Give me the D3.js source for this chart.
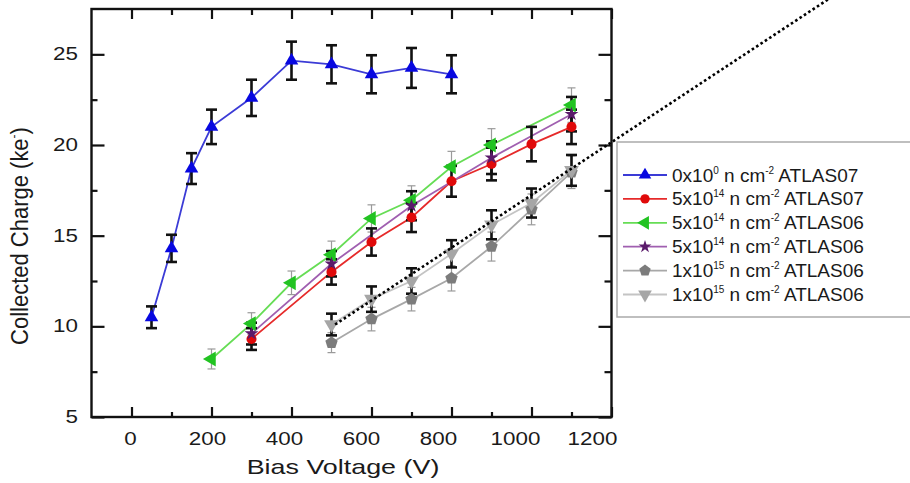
<!DOCTYPE html>
<html>
<head>
<meta charset="utf-8">
<script src="https://cdn.jsdelivr.net/npm/d3@7"></script>
<style>
  body { margin: 0; background: #fff; }
  text { font-family: "Liberation Sans", Arial, sans-serif; fill: #1a1a1a; }
</style>
</head>
<body>
<div id="chart"></div>
<script>
// bias voltage (V), collected charge (ke-), error (ke-)
const voltsA07 = [50, 100, 150, 200, 300, 400, 500, 600, 700, 800];
const chargeA07 = [10.5, 14.3, 18.7, 21.0, 22.6, 24.65, 24.45, 23.9, 24.25, 23.9];
const errA07 = [0.6, 0.75, 0.85, 0.95, 1.0, 1.05, 1.05, 1.05, 1.1, 1.05];

const voltsA07irr = [300, 500, 600, 700, 800, 900, 1000, 1100];
const chargeA07irr = [9.3, 13.0, 14.65, 16.0, 18.0, 18.95, 20.05, 21.0];
const errA07irr = [0.6, 0.7, 0.75, 0.8, 0.85, 0.9, 0.95, 0.95];

const voltsA06a = [200, 300, 400, 500, 600, 700, 800, 900, 1100];
const chargeA06a = [8.2, 10.15, 12.4, 13.95, 15.95, 16.95, 18.8, 20.0, 22.2];
const errA06a = [0.55, 0.6, 0.65, 0.75, 0.75, 0.8, 0.85, 0.9, 0.95];

const voltsA06b = [300, 500, 700, 900, 1100];
const chargeA06b = [9.6, 13.45, 16.65, 19.3, 21.7];
const errA06b = [0.6, 0.7, 0.8, 0.9, 0.95];

const voltsA06c = [500, 600, 700, 800, 900, 1000, 1100];
const chargeA06c = [9.1, 10.4, 11.5, 12.65, 14.4, 16.45, 18.5];
const errA06c = [0.55, 0.65, 0.65, 0.7, 0.8, 0.85, 0.9];

const voltsA06d = [500, 600, 700, 800, 900, 1000, 1100];
const chargeA06d = [10.1, 11.5, 12.5, 14.0, 15.6, 16.8, 18.6];
const errA06d = [0.6, 0.7, 0.7, 0.75, 0.8, 0.8, 0.85];

// legend text pieces: [mantissa, exponent, detector]
const legendLabels = [
  ["0x10", "0", "ATLAS07"],
  ["5x10", "14", "ATLAS07"],
  ["5x10", "14", "ATLAS06"],
  ["5x10", "14", "ATLAS06"],
  ["1x10", "15", "ATLAS06"],
  ["1x10", "15", "ATLAS06"],
];

const xTicks = [0, 200, 400, 600, 800, 1000, 1200];
const xMinor = [100, 300, 500, 700, 900, 1100];
const yTicks = [5, 10, 15, 20, 25];
const yMinor = [7.5, 12.5, 17.5, 22.5];

// dotted guide line (start / end in data units)
const guideVolts = [509, 1760];
const guideCharge = [10.1, 28.3];

const zip = (v, q, e) => v.map((d, i) => ({v: d, q: q[i], e: e[i]}));

const pentagon = {
  draw(ctx, size) {
    const r = Math.sqrt(size / 2.378);
    for (let i = 0; i < 5; i++) {
      const a = -Math.PI / 2 + i * 2 * Math.PI / 5;
      if (i === 0) ctx.moveTo(r * Math.cos(a), r * Math.sin(a));
      else ctx.lineTo(r * Math.cos(a), r * Math.sin(a));
    }
    ctx.closePath();
  }
};

const series = [
  {data: zip(voltsA07, chargeA07, errA07), line: "#3b3bd6", fill: "#0808e0",
    symbol: d3.symbolTriangle, size: 80, rot: 0, thick: true},
  {data: zip(voltsA07irr, chargeA07irr, errA07irr), line: "#e62a2a", fill: "#e00a0a",
    symbol: d3.symbolCircle, size: 80, rot: 0, thick: true},
  {data: zip(voltsA06a, chargeA06a, errA06a), line: "#66dd55", fill: "#22c322",
    symbol: d3.symbolTriangle, size: 95, rot: -90, thick: false},
  {data: zip(voltsA06b, chargeA06b, errA06b), line: "#a05fb0", fill: "#5a1a6a",
    symbol: d3.symbolStar, size: 60, rot: 0, thick: true},
  {data: zip(voltsA06c, chargeA06c, errA06c), line: "#a8a8a8", fill: "#7c7c7c",
    symbol: pentagon, size: 100, rot: 0, thick: false},
  {data: zip(voltsA06d, chargeA06d, errA06d), line: "#c4c4c4", fill: "#a6a6a6",
    symbol: d3.symbolTriangle, size: 95, rot: 180, thick: true},
];

const W = 910, H = 483;
const plot = {left: 91.5, right: 611.5, top: 9, bottom: 417};
const SX = 1.28; // text in the reference is stretched horizontally

const svg = d3.select("#chart").append("svg")
  .attr("width", W).attr("height", H);

const x = d3.scaleLinear().domain([-100, 1200]).range([plot.left, plot.right]);
const y = d3.scaleLinear().domain([5, 27.5]).range([plot.bottom, plot.top]);
// the tick labels in the reference sit on a slightly tighter spacing than the ticks
const xLabel = d3.scaleLinear().domain([0, 1200]).range([130, 592]);

const tickStyle = g => {
  g.select(".domain").remove();
  g.selectAll(".tick line").attr("stroke", "#111").attr("stroke-width", 2.2);
};

svg.append("g").attr("transform", `translate(0,${plot.bottom})`)
  .call(d3.axisBottom(x).tickValues(xTicks).tickSizeInner(-10).tickSizeOuter(0)
    .tickPadding(16).tickFormat(d3.format("d")))
  .call(tickStyle)
  .call(g => g.selectAll("text").attr("font-size", 17.5).attr("fill", "#1a1a1a")
    .attr("x", d => (xLabel(d) - x(d)) / SX)
    .attr("transform", `scale(${SX},1)`));
svg.append("g").attr("transform", `translate(0,${plot.bottom})`)
  .call(d3.axisBottom(x).tickValues(xMinor).tickSizeInner(-5).tickSizeOuter(0).tickFormat(""))
  .call(tickStyle);
svg.append("g").attr("transform", `translate(0,${plot.top})`)
  .call(d3.axisTop(x).tickValues(xTicks).tickSizeInner(-10).tickSizeOuter(0).tickFormat(""))
  .call(tickStyle);
svg.append("g").attr("transform", `translate(0,${plot.top})`)
  .call(d3.axisTop(x).tickValues(xMinor).tickSizeInner(-6).tickSizeOuter(0).tickFormat(""))
  .call(tickStyle);

svg.append("g").attr("transform", `translate(${plot.left},0)`)
  .call(d3.axisLeft(y).tickValues(yTicks).tickSizeInner(-13).tickSizeOuter(0))
  .call(tickStyle)
  .call(g => g.selectAll("text").attr("font-size", 17.5).attr("fill", "#1a1a1a")
    .attr("x", -13.5 / SX).attr("transform", `scale(${SX},1)`));
svg.append("g").attr("transform", `translate(${plot.left},0)`)
  .call(d3.axisLeft(y).tickValues(yMinor).tickSizeInner(-6).tickSizeOuter(0).tickFormat(""))
  .call(tickStyle);
svg.append("g").attr("transform", `translate(${plot.right},0)`)
  .call(d3.axisRight(y).tickValues(yTicks).tickSizeInner(-13).tickSizeOuter(0).tickFormat(""))
  .call(tickStyle);
svg.append("g").attr("transform", `translate(${plot.right},0)`)
  .call(d3.axisRight(y).tickValues(yMinor).tickSizeInner(-7).tickSizeOuter(0).tickFormat(""))
  .call(tickStyle);

svg.append("rect")
  .attr("x", plot.left).attr("y", plot.top)
  .attr("width", plot.right - plot.left).attr("height", plot.bottom - plot.top)
  .attr("fill", "none").attr("stroke", "#111").attr("stroke-width", 2.4);

// axis titles
svg.append("text")
  .attr("transform", `translate(343,474) scale(${SX},1)`)
  .attr("text-anchor", "middle").attr("font-size", 21)
  .text("Bias Voltage (V)");

const yTitle = svg.append("text")
  .attr("transform", "translate(28,236) rotate(-90) scale(1,1.12)")
  .attr("text-anchor", "middle").attr("font-size", 22);
yTitle.append("tspan").text("Collected Charge (ke");
yTitle.append("tspan").attr("font-size", 12).attr("dy", -9).text("-");
yTitle.append("tspan").attr("dy", 9).text(")");

// series
const line = d3.line().x(d => x(d.v)).y(d => y(d.q));

series.forEach(s => {
  svg.append("path").datum(s.data)
    .attr("d", line)
    .attr("fill", "none").attr("stroke", s.line).attr("stroke-width", 1.8);
});

const drawErrors = s => {
  const col = s.thick ? "#111" : "#9a9a9a";
  const sw = s.thick ? 2.6 : 1.2;
  const cap = s.thick ? 5.5 : 4;
  const g = svg.append("g").attr("stroke", col).attr("stroke-width", sw);
  s.data.forEach(d => {
    const cx = x(d.v), y1 = y(d.q + d.e), y2 = y(d.q - d.e);
    g.append("line").attr("x1", cx).attr("x2", cx).attr("y1", y1).attr("y2", y2);
    g.append("line").attr("x1", cx - cap).attr("x2", cx + cap).attr("y1", y1).attr("y2", y1);
    g.append("line").attr("x1", cx - cap).attr("x2", cx + cap).attr("y1", y2).attr("y2", y2);
  });
};
series.filter(s => !s.thick).forEach(drawErrors);
series.filter(s => s.thick).forEach(drawErrors);

series.forEach(s => {
  svg.append("g").selectAll("path")
    .data(s.data)
    .join("path")
    .attr("d", d3.symbol(s.symbol, s.size))
    .attr("transform", d => `translate(${x(d.v)},${y(d.q)}) rotate(${s.rot})`)
    .attr("fill", s.fill);
});

// dotted guide
svg.append("line")
  .attr("x1", x(guideVolts[0])).attr("y1", y(guideCharge[0]))
  .attr("x2", x(guideVolts[1])).attr("y2", y(guideCharge[1]))
  .attr("stroke", "#000").attr("stroke-width", 2.6)
  .attr("stroke-dasharray", "2.6,2.6");

// legend
const lg = svg.append("g");
lg.append("rect")
  .attr("x", 617).attr("y", 142).attr("width", 320).attr("height", 175)
  .attr("fill", "#fff").attr("stroke", "#aaa").attr("stroke-width", 1.5);

series.forEach((s, i) => {
  const cy = 175 + i * 23.9;
  lg.append("line").attr("x1", 623).attr("x2", 667).attr("y1", cy).attr("y2", cy)
    .attr("stroke", s.line).attr("stroke-width", 1.8);
  lg.append("path")
    .attr("d", d3.symbol(s.symbol, s.size * 0.85))
    .attr("transform", `translate(645,${cy}) rotate(${s.rot})`)
    .attr("fill", s.fill);
  const [mant, ex, name] = legendLabels[i];
  const t = lg.append("text").attr("x", 672).attr("y", cy + 6.5).attr("font-size", 19);
  t.append("tspan").text(mant);
  t.append("tspan").attr("font-size", 10).attr("dy", -8).text(ex);
  t.append("tspan").attr("dy", 8).text(" n cm");
  t.append("tspan").attr("font-size", 10).attr("dy", -8).text("-2");
  t.append("tspan").attr("dy", 8).text(" " + name);
});
</script>
</body>
</html>
